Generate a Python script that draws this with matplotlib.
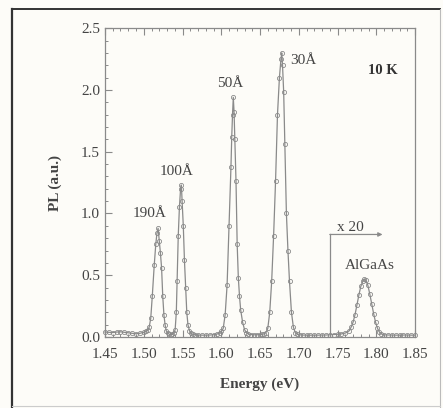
import matplotlib
matplotlib.use("Agg")
import matplotlib.pyplot as plt
from matplotlib.lines import Line2D
from matplotlib.ticker import MultipleLocator

# ------------------------------------------------------------------
# PL spectrum at 10 K
# ------------------------------------------------------------------
energy = [
    1.450, 1.455, 1.460, 1.465, 1.470, 1.475, 1.480, 1.485, 1.490, 1.495, 1.500, 1.503,
    # 190 A
    1.505, 1.507, 1.509, 1.511, 1.5135, 1.5155, 1.517, 1.5185, 1.520, 1.5215, 1.523,
    1.5245, 1.526, 1.5275, 1.529, 1.531, 1.533, 1.535,
    # 100 A
    1.537, 1.539, 1.5405, 1.542, 1.543, 1.5445, 1.546, 1.5475, 1.5485, 1.5495, 1.551,
    1.5525, 1.554, 1.5555, 1.557, 1.559, 1.561, 1.563,
    1.566, 1.570, 1.575, 1.580, 1.585, 1.590, 1.595, 1.598,
    # 50 A
    1.600, 1.6025, 1.605, 1.6075, 1.610, 1.6125, 1.6135, 1.6145, 1.6155, 1.6165, 1.6175,
    1.619, 1.6205, 1.622, 1.6235, 1.625, 1.6275, 1.630, 1.6325, 1.635,
    1.638, 1.642, 1.646, 1.650, 1.653, 1.6555,
    # 30 A
    1.6575, 1.660, 1.6625, 1.665, 1.6675, 1.670, 1.6725, 1.675, 1.677, 1.678, 1.679,
    1.6805, 1.682, 1.684, 1.686, 1.688, 1.6905, 1.693, 1.6955, 1.698,
    1.701, 1.705, 1.710, 1.715, 1.720, 1.725, 1.730, 1.735, 1.740, 1.745,
    # AlGaAs (x20)
    1.750, 1.755, 1.760, 1.765, 1.7675, 1.770, 1.7725, 1.775, 1.7775, 1.780, 1.7825,
    1.7845, 1.7865, 1.789, 1.7915, 1.794, 1.7965, 1.799, 1.8015, 1.804, 1.8065,
    1.810, 1.815, 1.820, 1.825, 1.830, 1.835, 1.840, 1.845, 1.850,
]
pl = [
    0.040, 0.038, 0.036, 0.040, 0.042, 0.038, 0.034, 0.030, 0.026, 0.030, 0.038, 0.045,
    0.055, 0.080, 0.150, 0.330, 0.580, 0.750, 0.840, 0.880, 0.780, 0.680, 0.560,
    0.330, 0.180, 0.100, 0.050, 0.030, 0.022, 0.020,
    0.022, 0.035, 0.060, 0.200, 0.450, 0.820, 1.050, 1.200, 1.230, 1.100, 0.900,
    0.620, 0.400, 0.200, 0.100, 0.050, 0.030, 0.022,
    0.018, 0.016, 0.015, 0.015, 0.016, 0.018, 0.025, 0.035,
    0.045, 0.070, 0.180, 0.420, 0.900, 1.380, 1.620, 1.800, 1.940, 1.820, 1.600,
    1.260, 0.750, 0.480, 0.330, 0.220, 0.120, 0.060, 0.035, 0.025,
    0.020, 0.018, 0.018, 0.020, 0.022, 0.026,
    0.035, 0.070, 0.200, 0.450, 0.820, 1.260, 1.800, 2.100, 2.250, 2.300, 2.200,
    1.980, 1.560, 1.000, 0.700, 0.450, 0.200, 0.080, 0.035, 0.022,
    0.018, 0.016, 0.015, 0.015, 0.015, 0.015, 0.016, 0.016, 0.018, 0.020,
    0.022, 0.025, 0.032, 0.050, 0.080, 0.120, 0.180, 0.260, 0.340, 0.410, 0.450,
    0.470, 0.460, 0.420, 0.350, 0.270, 0.190, 0.120, 0.070, 0.040, 0.025,
    0.018, 0.016, 0.016, 0.015, 0.015, 0.016, 0.016, 0.015, 0.015,
]

# peak labels: (text, energy, PL)
peak_labels = [
    ("190Å", 1.508, 1.00),
    ("100Å", 1.543, 1.34),
    ("50Å", 1.611, 2.05),
    ("30Å", 1.7055, 2.24),
    ("AlGaAs", 1.792, 0.58),
]

# x20 magnification marker (start energy, arrow end, height)
mag_start, mag_end, mag_level = 1.740, 1.808, 0.83

gray = "#8a8a8a"
text_gray = "#444444"
plt.rcParams["font.family"] = ["Liberation Serif", "DejaVu Serif"]

fig = plt.figure(figsize=(4.43, 4.08), dpi=100)
fig.patch.set_facecolor("#fdfcf8")
ax = fig.add_axes([0.237, 0.174, 0.700, 0.757])
ax.set_facecolor("#fdfcf8")

ax.plot(energy, pl, color=gray, linewidth=0.9, marker="o", markersize=3.0,
        markerfacecolor="none", markeredgewidth=0.6, clip_on=False)

# x20 bracket and arrow
ax.plot([mag_start, mag_start], [0.02, mag_level], color=gray, linewidth=0.9)
ax.annotate("", xy=(mag_end, mag_level), xytext=(mag_start, mag_level),
            arrowprops=dict(arrowstyle="-|>", color=gray, lw=0.9,
                            mutation_scale=6, shrinkA=0, shrinkB=0))
ax.text(1.766, 0.885, "x 20", ha="center", va="center", fontsize=11,
        color=text_gray)

for label, x, y in peak_labels:
    ax.text(x, y, label, ha="center", va="center", fontsize=11, color=text_gray)
ax.text(1.809, 2.16, "10 K", ha="center", va="center", fontsize=10.5,
        fontweight="bold", color="#333333")

ax.set_xlim(1.45, 1.85)
ax.set_ylim(0, 2.5)
ax.xaxis.set_major_locator(MultipleLocator(0.05))
ax.xaxis.set_minor_locator(MultipleLocator(0.01))
ax.yaxis.set_major_locator(MultipleLocator(0.5))
ax.yaxis.set_minor_locator(MultipleLocator(0.1))
ax.xaxis.set_major_formatter(plt.FormatStrFormatter("%.2f"))
ax.yaxis.set_major_formatter(plt.FormatStrFormatter("%.1f"))
ax.tick_params(which="both", direction="in", top=True, right=False,
               color=gray, labelcolor=text_gray, labelsize=11)
ax.tick_params(which="major", length=5, width=0.8)
ax.tick_params(which="minor", length=2.5, width=0.7)
ax.tick_params(axis="x", pad=8)
for sp in ax.spines.values():
    sp.set_color(gray)
    sp.set_linewidth(0.9)

ax.set_xlabel("Energy (eV)", fontsize=11, fontweight="bold", color=text_gray,
              labelpad=12)
ax.set_ylabel("PL (a.u.)", fontsize=11, fontweight="bold", color=text_gray,
              labelpad=14)

# outer frame of the scanned figure
fig.add_artist(Line2D([0.028, 0.028], [0.003, 0.978], color="#333333", lw=1.6))
fig.add_artist(Line2D([0.028, 0.993], [0.978, 0.978], color="#333333", lw=1.4))
fig.add_artist(Line2D([0.993, 0.993], [0.003, 0.978], color="#bbbbbb", lw=0.8))
fig.add_artist(Line2D([0.028, 0.993], [0.004, 0.004], color="#cccccc", lw=0.8))

fig.savefig("out.png", dpi=100, facecolor=fig.get_facecolor())
